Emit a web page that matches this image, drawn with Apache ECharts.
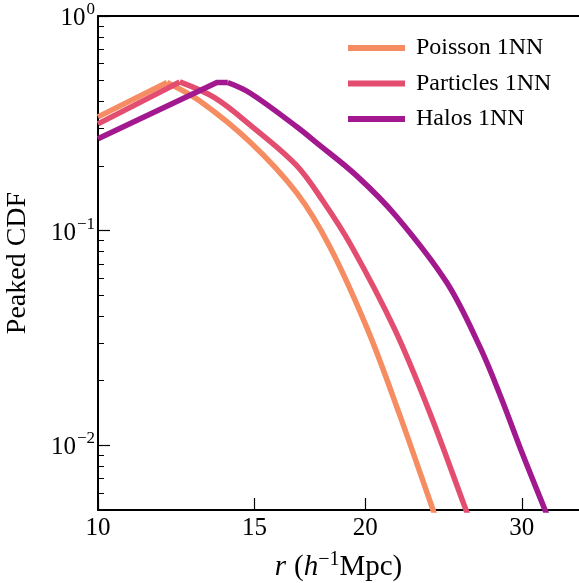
<!DOCTYPE html>
<html>
<head>
<meta charset="utf-8">
<script src="https://cdn.jsdelivr.net/npm/echarts@6/dist/echarts.min.js"></script>
<style>
html,body{margin:0;padding:0;background:#fff;}
#chart{width:579px;height:583px;}
</style>
</head>
<body>
<div id="chart"></div>
<script>
// ---- data ----
const seriesNames = ['Poisson 1NN', 'Particles 1NN', 'Halos 1NN'];
const rPoisson   = [10, 11.96, 13.02, 14.83, 16.74, 18.24, 20.12, 21.81, 23.82, 24.25];
const cdfPoisson = [0.339, 0.49, 0.402, 0.259, 0.150, 0.0842, 0.0346, 0.01424, 0.00504, 0.00407];
const rParticles   = [10, 12.36, 13.54, 14.83, 16.70, 17.91, 19.31, 21.59, 23.63, 25.87, 26.45];
const cdfParticles = [0.3145, 0.493, 0.4155, 0.311, 0.203, 0.1378, 0.0842, 0.0346, 0.01424, 0.0052, 0.00407];
const rHalos   = [10, 13.61, 14.00, 14.83, 16.74, 17.63, 19.56, 21.69, 24.70, 26.90, 28.40, 30.07, 31.84, 32.49];
const cdfHalos = [0.268, 0.49, 0.49, 0.438, 0.305, 0.2566, 0.180, 0.1162, 0.0573, 0.0289, 0.0169, 0.00908, 0.00504, 0.00407];
const xTickValues = [10, 15, 20, 30];
const yMajorTicks = [0.01, 0.1, 1];
const yMinorTicks = [0.006, 0.007, 0.008, 0.009, 0.02, 0.03, 0.04, 0.05, 0.06, 0.07, 0.08, 0.09,
                     0.2, 0.3, 0.4, 0.5, 0.6, 0.7, 0.8, 0.9];

const colors = ['#f68d62', '#e34e70', '#a2188f'];
const FONT = '"Liberation Serif", "DejaVu Serif", serif';

function pairs(xs, ys) { return xs.map((x, i) => [x, ys[i]]); }

// split each curve at its peak: straight rising branch, smooth falling branch
function branches(name, xs, ys, color, z) {
  const pts = pairs(xs, ys);
  const mx = Math.max.apply(null, ys);
  const pk = ys.lastIndexOf(mx);
  const base = {name: name, type: 'line', showSymbol: false, symbol: 'none',
    lineStyle: {width: 5.5, color: color, cap: 'butt', join: 'round'}, itemStyle: {color: color}, z: z};
  return [
    Object.assign({}, base, {data: pts.slice(0, pk + 1), smooth: false}),
    Object.assign({}, base, {data: pts.slice(pk), smooth: 0.35})
  ];
}

const chart = echarts.init(document.getElementById('chart'), null, {renderer: 'canvas'});

const expLabel = {
  b: {fontFamily: FONT, fontSize: 25, color: '#000', lineHeight: 30, verticalAlign: 'bottom'},
  s: {fontFamily: FONT, fontSize: 17, color: '#000', lineHeight: 30, verticalAlign: 'top', padding: [0, 0, 0, 1]}
};

chart.setOption({
  animation: false,
  backgroundColor: '#fff',
  color: colors,
  grid: {left: 98, right: 0, top: 16, bottom: 73, containLabel: false, outerBoundsMode: 'none'},
  legend: {
    orient: 'vertical',
    left: 343, top: 31,
    icon: 'rect',
    itemWidth: 57, itemHeight: 6,
    itemGap: 11.5,
    data: seriesNames,
    textStyle: {fontFamily: FONT, fontSize: 24, color: '#000', padding: [0, 0, 0, 6]}
  },
  xAxis: [{
    type: 'log', logBase: 10, min: 10, max: 34.8,
    position: 'bottom',
    axisLine: {show: true, onZero: false, lineStyle: {color: '#000', width: 2}},
    axisTick: {show: true, inside: true, length: 12, customValues: xTickValues, lineStyle: {color: '#000', width: 1.2}},
    axisLabel: {show: true, customValues: xTickValues, margin: 6, fontFamily: FONT, fontSize: 25, color: '#000',
      formatter: v => String(Math.round(v))},
    splitLine: {show: false},
    name: '{i|r}{g| }{n|(}{i|h}{s|−1}{n|Mpc)}',
    nameLocation: 'middle', nameGap: 40,
    nameTextStyle: {
      rich: {
        i: {fontFamily: FONT, fontStyle: 'italic', fontSize: 29, color: '#000', lineHeight: 32, verticalAlign: 'bottom'},
        n: {fontFamily: FONT, fontSize: 29, color: '#000', lineHeight: 32, verticalAlign: 'bottom'},
        g: {fontFamily: FONT, fontSize: 29, color: '#000', lineHeight: 32, width: 8},
        s: {fontFamily: FONT, fontSize: 20, color: '#000', lineHeight: 32, verticalAlign: 'top'}
      }
    }
  }, {
    type: 'log', logBase: 10, min: 10, max: 34.8,
    position: 'top',
    axisLine: {show: true, onZero: false, lineStyle: {color: '#000', width: 2}},
    axisTick: {show: false}, axisLabel: {show: false}, splitLine: {show: false}
  }],
  yAxis: [{
    type: 'log', logBase: 10, min: 0.005, max: 1,
    position: 'left',
    axisLine: {show: true, onZero: false, lineStyle: {color: '#000', width: 2}},
    axisTick: {show: true, inside: true, length: 12, customValues: yMajorTicks, lineStyle: {color: '#000', width: 1.2}},
    axisLabel: {show: true, customValues: yMajorTicks, margin: 3,
      formatter: v => '{b|10}{s|' + (Math.round(Math.log10(v)) === 0 ? '0' : '−' + Math.abs(Math.round(Math.log10(v)))) + '}',
      rich: expLabel},
    splitLine: {show: false},
    name: 'Peaked CDF', nameLocation: 'middle', nameGap: 66, nameRotate: 90,
    nameTextStyle: {fontFamily: FONT, fontSize: 28, color: '#000'}
  }, {
    type: 'log', logBase: 10, min: 0.005, max: 1,
    position: 'left',
    axisLine: {show: false},
    axisTick: {show: true, inside: true, length: 6, customValues: yMinorTicks, lineStyle: {color: '#000', width: 1}},
    axisLabel: {show: false}, splitLine: {show: false}
  }],
  series: [].concat(
    branches(seriesNames[0], rPoisson, cdfPoisson, colors[0], 3),
    branches(seriesNames[1], rParticles, cdfParticles, colors[1], 4),
    branches(seriesNames[2], rHalos, cdfHalos, colors[2], 5)
  )
});
</script>
</body>
</html>
